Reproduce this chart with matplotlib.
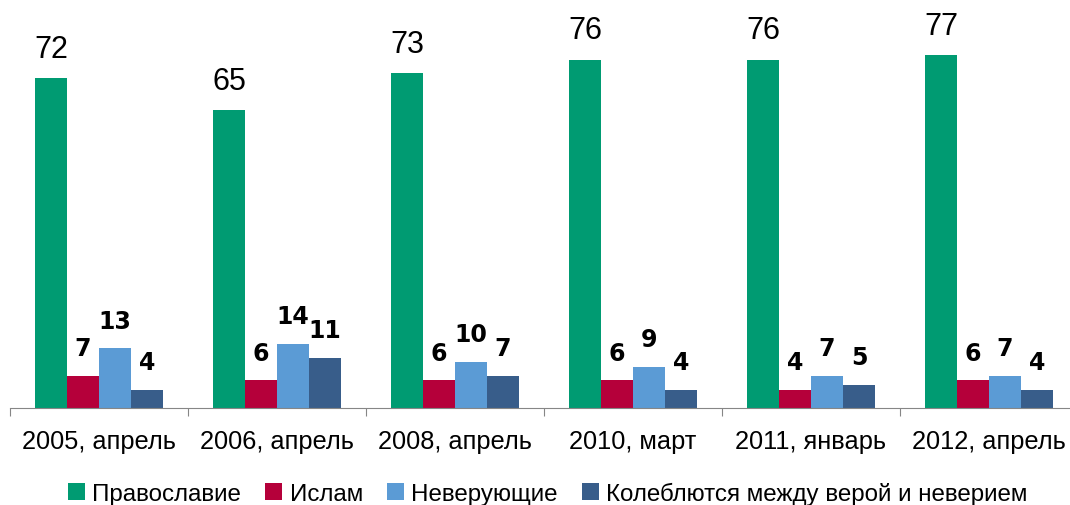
import numpy as np
import matplotlib.pyplot as plt

# survey waves and series values (%)
categories = ["2005, апрель", "2006, апрель", "2008, апрель",
              "2010, март", "2011, январь", "2012, апрель"]
series_names = ["Православие", "Ислам", "Неверующие",
                "Колеблются между верой и неверием"]
orthodox = [72, 65, 73, 76, 76, 77]
islam = [7, 6, 6, 6, 4, 6]
nonbelievers = [13, 14, 10, 9, 7, 7]
hesitant = [4, 11, 7, 4, 5, 4]

colors = ["#009B72", "#B5003A", "#5B9BD5", "#385D8A"]
values = [orthodox, islam, nonbelievers, hesitant]

plt.rcParams['font.family'] = ['Liberation Sans', 'DejaVu Sans']

fig = plt.figure(figsize=(10.70, 5.06), dpi=100)
# axes placed in pixel terms: x from 10 to 1078, y from 409 (bottom) to 0 (top)
ax = fig.add_axes([10 / 1070, (506 - 409) / 506, 1068 / 1070, 409 / 506])

x = np.arange(len(categories))
width = 0.18
for i, (vals, col, name) in enumerate(zip(values, colors, series_names)):
    pos = x + (i - 1.5) * width
    bars = ax.bar(pos, vals, width, color=col, label=name, zorder=2)
    for p, v in zip(pos, vals):
        if i == 0:
            ax.annotate(str(v), (p, v), xytext=(0, 21), textcoords='offset points',
                        ha='center', va='center', fontsize=22)
        else:
            ax.annotate(str(v), (p, v), xytext=(0, 20), textcoords='offset points',
                        ha='center', va='center', fontsize=17, fontweight='bold',
                        family=['DejaVu Sans'])

ax.set_xlim(-0.5, len(categories) - 0.5)
ax.set_ylim(0, 89.2)
for s in ['top', 'right', 'left']:
    ax.spines[s].set_visible(False)
ax.spines['bottom'].set_color('#868686')
ax.set_yticks([])
ax.set_xticks(np.arange(len(categories) + 1) - 0.5, minor=False)
ax.set_xticklabels([])
ax.tick_params(axis='x', length=6, color='#868686', direction='out')
ax.set_xticks(x, minor=True)
ax.set_xticklabels(categories, minor=True, fontsize=18.3)
ax.tick_params(axis='x', which='minor', length=0, pad=15)

fig.legend(loc='lower center', bbox_to_anchor=(0.512, -0.043), ncol=4, frameon=False,
           fontsize=17.4, handlelength=0.7, handleheight=0.7, handletextpad=0.3,
           columnspacing=1.0)

fig.savefig("out.png", dpi=100)
